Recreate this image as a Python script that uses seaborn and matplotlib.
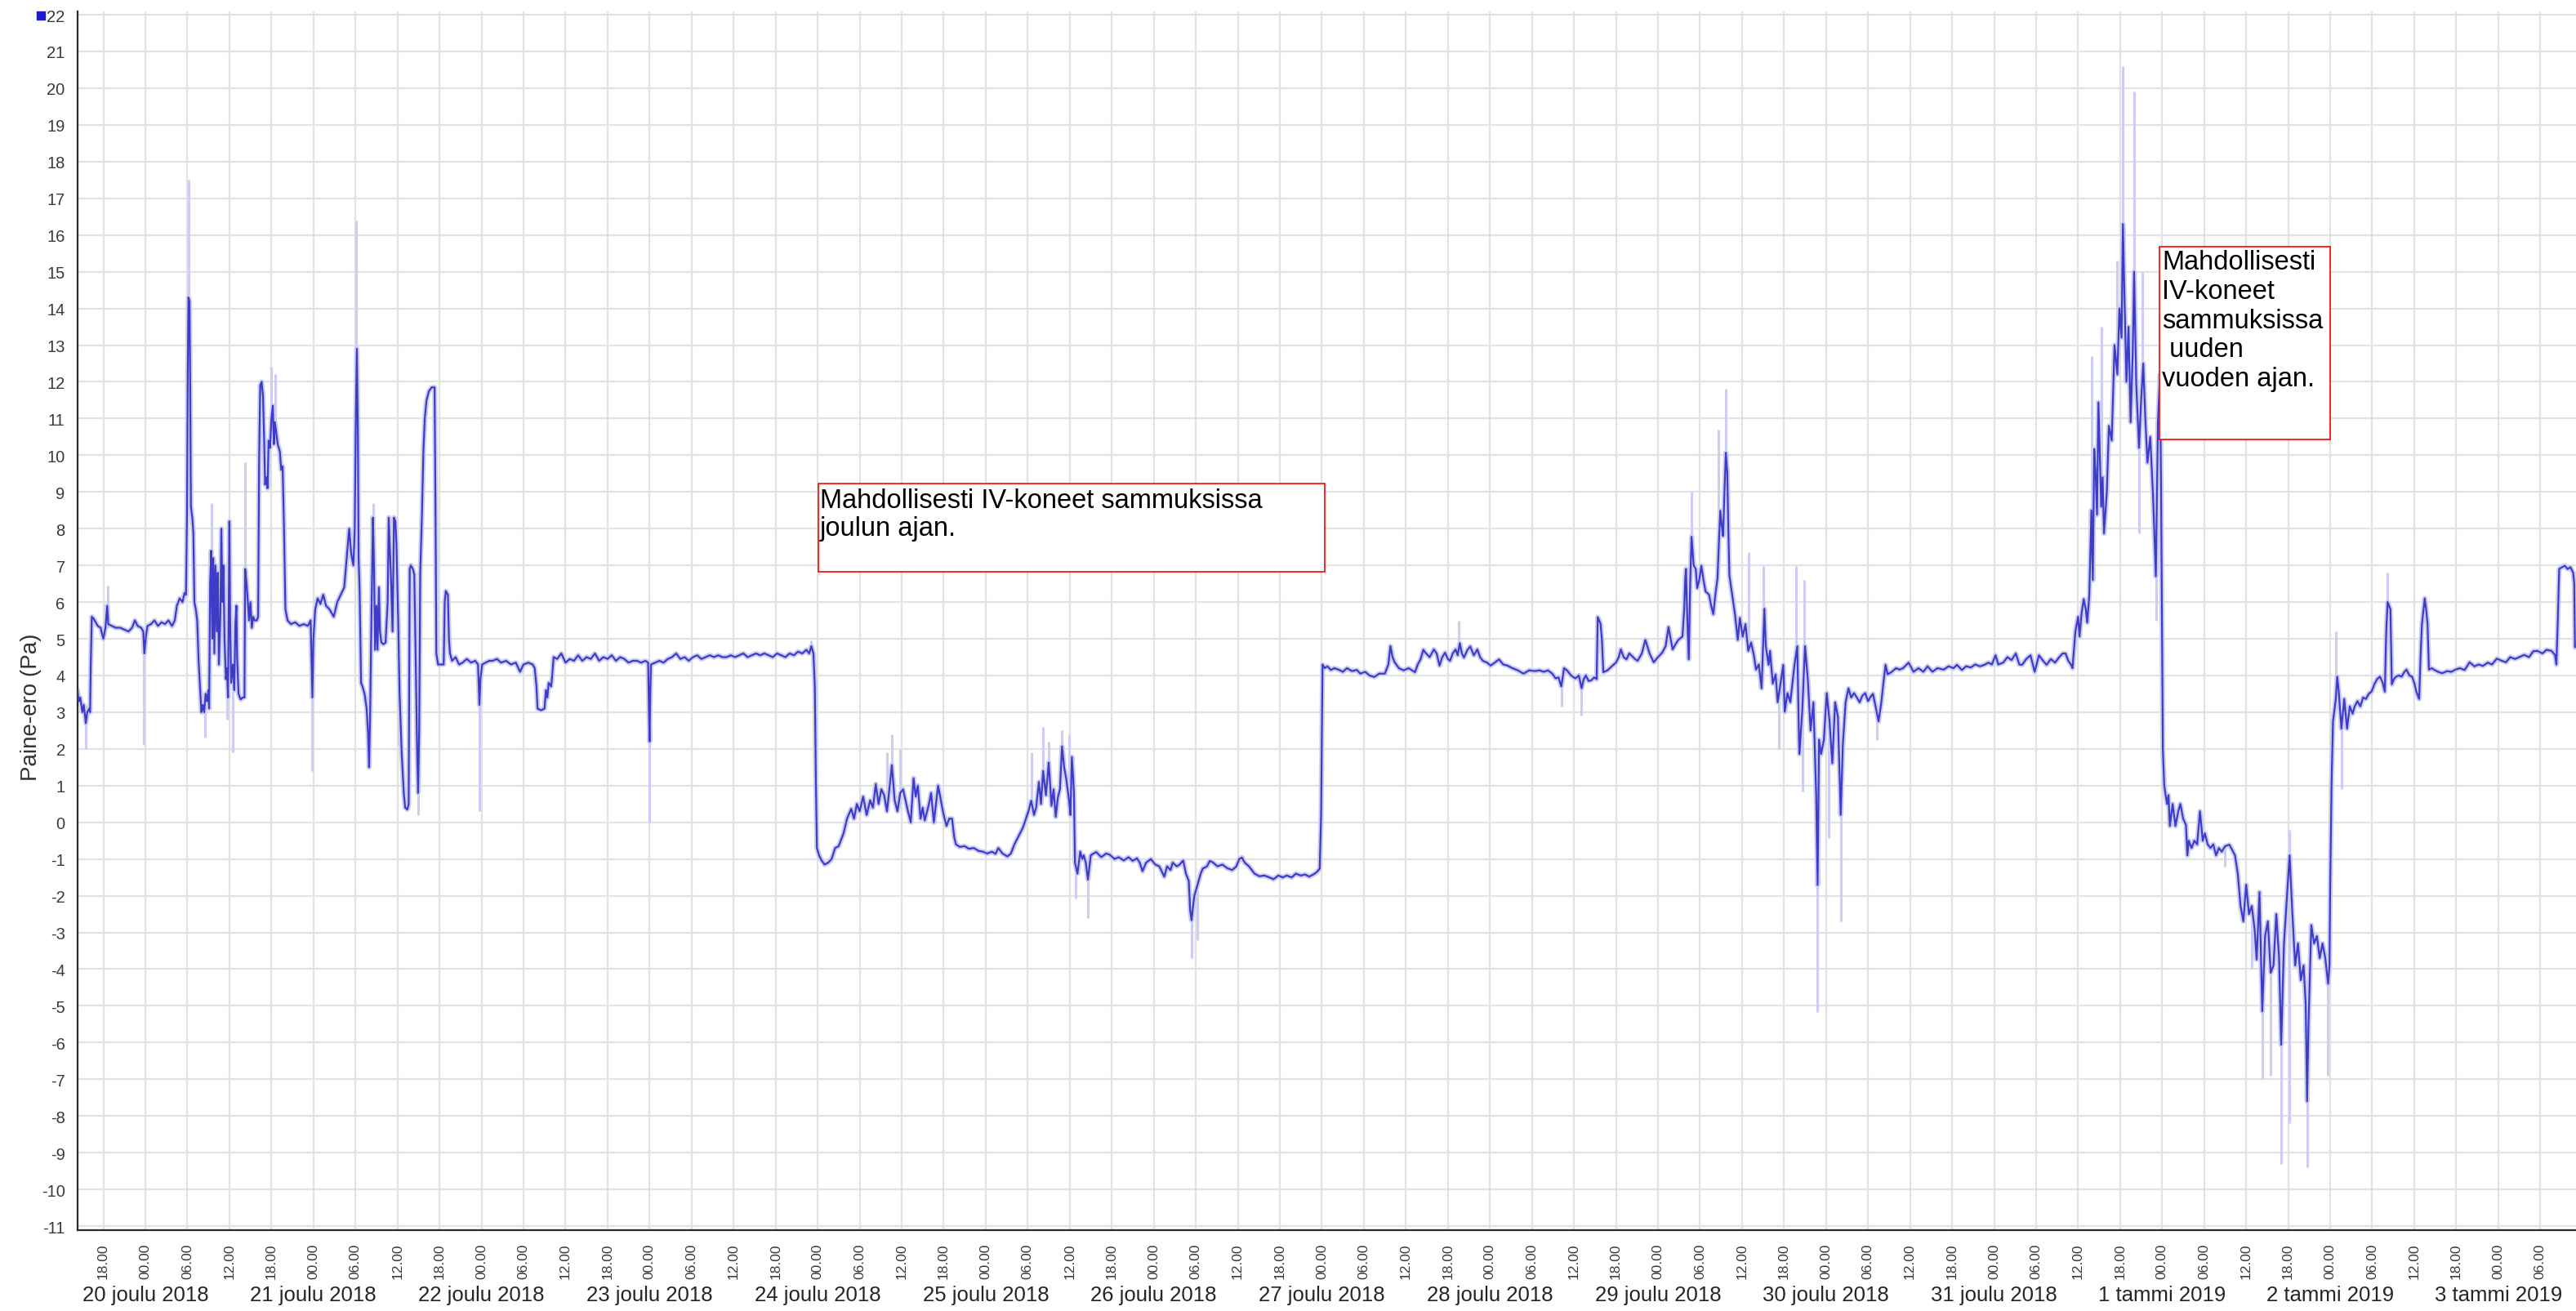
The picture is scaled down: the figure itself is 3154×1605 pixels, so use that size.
import matplotlib
matplotlib.use("Agg")
import matplotlib.pyplot as plt
import matplotlib.dates as mdates
from matplotlib.patches import Rectangle
from matplotlib.lines import Line2D
from matplotlib.ticker import MultipleLocator
import pandas as pd
import seaborn as sns

# ---------------------------------------------------------------------------
# Paine-ero (Pa), sampled as (hours after 20.12.2018 00:00, value)
# ---------------------------------------------------------------------------
START = pd.Timestamp("2018-12-20 00:00")

jakso_19_21 = [
    (-9.7, 3.6), (-9.5, 3.3), (-9.3, 3.4), (-9.0, 3.0), (-8.8, 3.2), (-8.5, 2.7), (-8.3, 3.0),
    (-8.0, 3.1), (-7.9, 3.0), (-7.8, 4.3), (-7.65, 5.6), (-7.4, 5.55), (-7.1, 5.45), (-6.8, 5.35),
    (-6.4, 5.3), (-6.0, 5.0), (-5.7, 5.3), (-5.45, 5.9), (-5.3, 5.4), (-4.8, 5.35), (-4.2, 5.3),
    (-3.6, 5.3), (-3.0, 5.25), (-2.4, 5.2), (-1.9, 5.3), (-1.5, 5.5), (-1.1, 5.35), (-0.6, 5.3),
    (-0.3, 5.2), (-0.15, 4.6), (0.1, 5.1), (0.3, 5.35), (0.8, 5.4), (1.3, 5.5), (1.8, 5.35),
    (2.3, 5.45), (2.8, 5.4), (3.3, 5.5), (3.8, 5.35), (4.2, 5.5), (4.5, 5.9), (4.9, 6.1),
    (5.3, 6.0), (5.6, 6.25), (5.8, 6.2), (5.95, 8.5), (6.05, 12.2), (6.15, 14.3), (6.3, 14.2),
    (6.4, 12.0), (6.5, 8.6), (6.7, 8.3), (6.85, 7.9), (7.0, 6.0), (7.2, 5.8), (7.4, 5.5),
    (7.6, 4.4), (7.8, 3.7), (8.0, 3.0), (8.2, 3.2), (8.4, 3.0), (8.6, 3.5), (8.8, 3.3),
    (9.0, 3.6), (9.1, 3.1), (9.25, 6.5), (9.4, 7.4), (9.55, 5.0), (9.7, 7.2), (9.85, 4.6),
    (10.0, 7.0), (10.2, 5.2), (10.35, 6.8), (10.5, 4.3), (10.7, 5.6), (10.85, 8.0), (11.0, 6.0),
    (11.15, 7.0), (11.3, 5.0), (11.5, 3.9), (11.65, 4.2), (11.8, 3.4), (12.0, 8.2), (12.1, 5.5),
    (12.25, 3.8), (12.5, 4.3), (12.7, 3.6), (12.85, 5.4), (13.0, 5.9), (13.1, 4.5), (13.3, 3.5),
    (13.6, 3.35), (13.9, 3.4), (14.15, 3.4), (14.25, 6.9), (14.4, 6.6), (14.6, 6.1), (14.8, 5.5),
    (15.0, 6.0), (15.2, 5.3), (15.4, 5.6), (15.6, 5.5), (15.9, 5.5), (16.1, 5.6), (16.25, 10.0),
    (16.4, 11.9), (16.6, 12.0), (16.8, 11.6), (16.95, 10.5), (17.1, 9.2), (17.3, 9.4), (17.45, 9.1),
    (17.6, 10.4), (17.8, 10.2), (18.0, 11.0), (18.2, 11.35), (18.35, 10.3), (18.5, 10.9),
    (18.7, 10.6), (18.9, 10.3), (19.2, 10.1), (19.4, 9.6), (19.6, 9.7), (19.8, 8.0), (20.0, 5.8),
    (20.3, 5.5), (20.8, 5.4), (21.4, 5.45), (22.0, 5.35), (22.6, 5.4), (23.2, 5.35), (23.6, 5.5),
    (23.85, 3.4), (24.0, 5.0), (24.25, 5.8), (24.6, 6.1), (25.0, 5.95), (25.4, 6.2), (25.8, 5.9),
    (26.3, 5.8), (26.9, 5.6), (27.4, 6.0), (27.9, 6.2), (28.4, 6.4), (28.8, 7.3), (29.1, 8.0),
    (29.4, 7.3), (29.7, 7.0), (29.9, 8.0), (30.05, 11.0), (30.2, 12.9), (30.35, 10.5),
    (30.45, 7.2), (30.6, 6.3), (30.8, 3.8), (31.0, 3.7), (31.3, 3.5), (31.6, 3.1), (31.8, 2.4),
    (31.95, 1.5), (32.1, 3.0), (32.3, 5.8), (32.5, 8.3), (32.65, 7.0), (32.8, 4.7), (33.0, 5.9),
    (33.15, 4.7), (33.35, 6.4), (33.5, 5.2), (33.7, 4.9), (34.0, 4.85), (34.3, 4.9), (34.6, 6.0),
    (34.75, 8.3), (34.9, 7.5), (35.1, 6.5), (35.3, 5.2), (35.5, 8.3), (35.7, 8.2), (35.85, 7.6),
    (36.1, 5.5), (36.3, 3.5), (36.6, 1.9), (36.9, 0.8), (37.1, 0.4), (37.4, 0.35), (37.6, 0.5),
    (37.75, 6.9), (37.9, 7.0), (38.2, 6.9), (38.4, 6.75), (38.6, 4.5), (38.8, 2.0), (38.95, 0.8),
    (39.1, 2.5), (39.25, 6.8), (39.5, 8.4), (39.7, 10.1), (39.9, 11.0), (40.15, 11.5),
    (40.5, 11.75), (40.9, 11.85), (41.3, 11.85), (41.45, 8.0), (41.55, 4.6), (41.8, 4.3),
    (42.3, 4.3), (42.6, 4.3), (42.75, 6.0), (42.9, 6.3), (43.2, 6.2), (43.35, 5.0), (43.5, 4.6),
    (43.8, 4.4), (44.3, 4.5), (44.8, 4.3), (45.3, 4.35), (45.9, 4.45), (46.5, 4.35), (47.1, 4.4),
    (47.5, 4.3), (47.7, 3.2), (47.85, 3.9), (48.1, 4.3), (48.6, 4.35), (49.1, 4.4), (49.6, 4.4),
    (50.2, 4.45),
]

jakso_22_26 = [
    (50.8, 4.35), (51.5, 4.4), (52.2, 4.3), (52.9, 4.35), (53.5, 4.1), (54.0, 4.3), (54.7, 4.35),
    (55.3, 4.3), (55.6, 4.2), (55.85, 3.7), (56.0, 3.1), (56.5, 3.05), (57.0, 3.1), (57.2, 3.6),
    (57.4, 3.4), (57.6, 3.8), (57.8, 3.75), (57.95, 3.7), (58.1, 4.0), (58.3, 4.5), (58.8, 4.45),
    (59.4, 4.6), (60.0, 4.35), (60.6, 4.45), (61.2, 4.4), (61.8, 4.55), (62.4, 4.4), (63.0, 4.5),
    (63.6, 4.45), (64.2, 4.6), (64.8, 4.4), (65.4, 4.5), (66.0, 4.45), (66.6, 4.55), (67.2, 4.4),
    (67.8, 4.5), (68.4, 4.45), (69.0, 4.35), (69.6, 4.4), (70.2, 4.4), (70.8, 4.35), (71.4, 4.4),
    (71.8, 4.35), (71.9, 3.2), (72.0, 2.2), (72.1, 3.5), (72.2, 4.3), (72.8, 4.35), (73.4, 4.4),
    (74.0, 4.35), (74.6, 4.45), (75.2, 4.5), (75.8, 4.6), (76.4, 4.45), (77.0, 4.5), (77.6, 4.4),
    (78.2, 4.5), (78.8, 4.55), (79.4, 4.45), (80.0, 4.5), (80.6, 4.55), (81.2, 4.5), (81.8, 4.55),
    (82.4, 4.5), (83.0, 4.5), (83.6, 4.55), (84.2, 4.5), (84.8, 4.55), (85.4, 4.6), (86.0, 4.5),
    (86.6, 4.55), (87.2, 4.6), (87.8, 4.55), (88.4, 4.6), (89.0, 4.55), (89.6, 4.5), (90.2, 4.6),
    (90.8, 4.55), (91.4, 4.5), (92.0, 4.6), (92.6, 4.55), (93.2, 4.65), (93.8, 4.6), (94.4, 4.7),
    (94.8, 4.6), (95.1, 4.8), (95.4, 4.6), (95.6, 3.7), (95.75, 1.1), (95.9, -0.7), (96.2, -0.9),
    (96.6, -1.05), (97.0, -1.15), (97.5, -1.1), (98.0, -1.0), (98.5, -0.7), (99.0, -0.65),
    (99.7, -0.3), (100.2, 0.1), (100.8, 0.37), (101.2, 0.1), (101.6, 0.5), (102.0, 0.3),
    (102.5, 0.7), (103.0, 0.2), (103.5, 0.6), (103.9, 0.4), (104.3, 1.04), (104.7, 0.5),
    (105.1, 0.9), (105.5, 0.74), (105.9, 0.3), (106.3, 1.0), (106.6, 1.56), (107.0, 0.6),
    (107.4, 0.3), (107.8, 0.8), (108.2, 0.9), (108.55, 0.6), (108.9, 0.3), (109.3, 0.0),
    (109.7, 1.2), (110.0, 0.7), (110.3, 1.0), (110.7, 0.1), (111.0, 0.4), (111.3, 0.05),
    (111.9, 0.5), (112.2, 0.8), (112.6, 0.0), (113.2, 1.0), (113.6, 0.6), (114.0, 0.2),
    (114.4, -0.1), (114.8, 0.1), (115.2, 0.1), (115.5, -0.4), (115.75, -0.6), (116.3, -0.67),
    (117.0, -0.65), (117.6, -0.72), (118.3, -0.7), (119.0, -0.78), (119.6, -0.8), (120.2, -0.85),
    (120.9, -0.8), (121.4, -0.86), (121.8, -0.7), (122.4, -0.85), (123.1, -0.93), (123.6, -0.85),
    (124.1, -0.6), (124.5, -0.45), (124.9, -0.3), (125.3, -0.15), (125.7, 0.07), (126.1, 0.3),
    (126.5, 0.59), (126.9, 0.2), (127.2, 0.4), (127.6, 1.1), (127.9, 0.5), (128.2, 1.4),
    (128.6, 0.74), (129.0, 1.63), (129.4, 0.45), (129.7, 0.9), (130.0, 0.15), (130.3, 0.67),
    (130.6, 0.9), (130.9, 2.07), (131.2, 1.5), (131.5, 1.19), (131.9, 0.6), (132.1, 0.2),
    (132.3, 1.78), (132.5, 1.2), (132.6, 0.8), (132.75, -1.1), (133.1, -1.4), (133.5, -0.8),
    (133.8, -1.0), (134.0, -0.9), (134.3, -1.1), (134.6, -1.56), (135.0, -0.9), (135.4, -0.85),
    (135.8, -0.81), (136.5, -0.95), (137.2, -0.85), (137.7, -0.88), (138.4, -1.0), (139.0, -0.95),
    (139.7, -1.04), (140.4, -0.95), (141.0, -1.05), (141.6, -0.98), (142.0, -1.1), (142.4, -1.33),
    (142.9, -1.1), (143.6, -1.0), (144.2, -1.15), (144.8, -1.2), (145.5, -1.48), (145.9, -1.2),
    (146.4, -1.3), (146.7, -1.1), (147.3, -1.2), (147.7, -1.15), (148.2, -1.04), (148.6, -1.4),
    (149.0, -1.6), (149.2, -2.4), (149.4, -2.67), (149.6, -2.3), (149.8, -2.0), (150.1, -1.8),
    (150.4, -1.6), (150.7, -1.4), (151.0, -1.26), (151.6, -1.2), (152.0, -1.05), (152.5, -1.1),
    (153.1, -1.2), (153.8, -1.15), (154.5, -1.25), (155.2, -1.3), (155.8, -1.2), (156.2, -1.0),
    (156.6, -0.96), (157.0, -1.1), (157.6, -1.2), (158.0, -1.3), (158.4, -1.4), (159.1, -1.47),
    (159.8, -1.45), (160.5, -1.5), (161.1, -1.55), (161.8, -1.45), (162.4, -1.5), (163.0, -1.45),
    (163.7, -1.5), (164.3, -1.4), (165.0, -1.45), (165.6, -1.42), (166.2, -1.48), (166.9, -1.41),
    (167.3, -1.35), (167.7, -1.26), (167.9, 0.2), (168.1, 4.3), (168.4, 4.2), (168.8, 4.25),
    (169.3, 4.15),
]

jakso_27_29 = [
    (169.8, 4.2), (170.5, 4.15), (171.0, 4.1), (171.6, 4.2), (172.3, 4.12), (173.0, 4.15),
    (173.5, 4.05), (174.2, 4.1), (174.8, 4.0), (175.5, 3.96), (176.2, 4.05), (177.0, 4.05),
    (177.5, 4.3), (177.8, 4.8), (178.1, 4.5), (178.4, 4.36), (179.0, 4.2), (179.7, 4.14),
    (180.4, 4.2), (181.3, 4.09), (181.7, 4.3), (182.1, 4.44), (182.5, 4.7), (182.8, 4.62),
    (183.4, 4.5), (184.0, 4.71), (184.4, 4.6), (184.8, 4.27), (185.2, 4.5), (185.6, 4.62),
    (186.0, 4.45), (186.3, 4.4), (186.7, 4.6), (187.1, 4.71), (187.4, 4.55), (187.7, 4.88),
    (188.0, 4.6), (188.3, 4.49), (188.8, 4.7), (189.2, 4.79), (189.7, 4.55), (190.2, 4.71),
    (190.6, 4.5), (191.0, 4.4), (191.6, 4.35), (192.1, 4.27), (192.7, 4.35), (193.3, 4.44),
    (193.9, 4.3), (194.5, 4.27), (195.2, 4.2), (196.0, 4.14), (196.8, 4.05), (197.6, 4.14),
    (198.4, 4.12), (199.1, 4.14), (199.7, 4.1), (200.3, 4.14), (200.9, 4.05), (201.4, 3.92),
    (201.8, 3.95), (202.2, 3.7), (202.6, 4.2), (203.0, 4.14), (203.6, 4.0), (204.2, 3.92),
    (204.7, 4.0), (205.1, 3.65), (205.4, 3.9), (205.7, 4.0), (206.1, 3.85), (206.5, 3.87),
    (206.9, 3.95), (207.25, 3.9), (207.4, 5.59), (207.8, 5.41), (208.0, 4.97), (208.2, 4.09),
    (208.8, 4.14), (209.4, 4.25), (210.0, 4.35), (210.4, 4.5), (210.7, 4.71), (211.1, 4.5),
    (211.5, 4.44), (211.9, 4.6), (212.3, 4.53), (212.7, 4.45), (213.1, 4.4), (213.7, 4.6),
    (214.2, 4.97), (214.8, 4.6), (215.4, 4.36), (216.0, 4.5), (216.6, 4.62), (217.1, 4.8),
    (217.5, 5.32), (218.1, 4.71), (218.5, 4.85), (218.9, 4.97), (219.5, 5.06), (219.75, 5.8),
    (219.9, 6.64), (220.0, 6.9), (220.2, 5.5), (220.4, 4.44), (220.6, 6.5), (220.8, 7.78),
    (221.1, 7.0), (221.4, 6.9), (221.6, 6.38), (221.9, 6.6), (222.2, 6.99), (222.5, 6.6),
    (222.8, 6.29), (223.3, 6.2), (223.6, 5.9), (223.9, 5.67), (224.2, 6.2), (224.5, 6.64),
    (224.7, 7.6), (224.9, 8.49), (225.1, 8.1), (225.3, 7.8), (225.5, 9.0), (225.7, 10.07),
    (225.9, 9.54), (226.05, 8.0), (226.2, 6.73), (226.6, 6.2), (227.0, 5.67), (227.4, 4.97),
    (227.7, 5.57), (228.1, 5.06), (228.5, 5.4),
]

jakso_30_31 = [
    (228.9, 4.67), (229.3, 4.9), (229.7, 4.55), (230.0, 4.16), (230.4, 4.3), (230.8, 3.65),
    (231.2, 5.82), (231.4, 4.8), (231.8, 4.29), (232.0, 4.67), (232.4, 3.78), (232.8, 4.03),
    (233.1, 3.27), (233.5, 3.78), (233.9, 4.29), (234.1, 3.01), (234.5, 3.52), (234.9, 3.27),
    (235.5, 4.29), (235.9, 4.8), (236.1, 2.63), (236.2, 1.86), (236.6, 3.01), (237.0, 4.8),
    (237.4, 3.9), (237.8, 2.5), (238.2, 3.27), (238.6, 0.71), (238.8, -1.71), (239.0, 2.25),
    (239.3, 1.86), (239.7, 2.25), (240.1, 3.52), (240.5, 2.76), (240.9, 1.61), (241.3, 3.27),
    (241.7, 2.88), (242.1, 0.2), (242.4, 2.12), (242.8, 3.27), (243.2, 3.65), (243.6, 3.4),
    (244.0, 3.52), (244.4, 3.4), (244.8, 3.27), (245.2, 3.45), (245.6, 3.52), (246.0, 3.3),
    (246.3, 3.4), (246.7, 3.5), (247.1, 3.14), (247.5, 2.75), (247.9, 3.27), (248.2, 3.8),
    (248.5, 4.29), (248.8, 4.03), (249.4, 4.1), (250.0, 4.2), (250.5, 4.16), (251.0, 4.2),
    (251.8, 4.35), (252.5, 4.1), (253.2, 4.2), (253.9, 4.1), (254.5, 4.25), (255.2, 4.1),
    (255.9, 4.2), (256.8, 4.16), (257.5, 4.25), (258.2, 4.2), (258.7, 4.29), (259.4, 4.15),
    (260.0, 4.25), (260.7, 4.22), (261.3, 4.3), (262.0, 4.25), (262.6, 4.29), (263.2, 4.35),
    (263.7, 4.3), (264.2, 4.55), (264.6, 4.3), (265.3, 4.35), (265.9, 4.5), (266.5, 4.42),
    (267.1, 4.6), (267.6, 4.3), (268.0, 4.29), (268.6, 4.45), (269.2, 4.55), (269.8, 4.1),
    (270.4, 4.55), (271.0, 4.4), (271.5, 4.29), (272.1, 4.45), (272.7, 4.35), (273.3, 4.5),
    (273.8, 4.6), (274.2, 4.6), (274.6, 4.4), (275.0, 4.29), (275.2, 4.2), (275.4, 4.7),
    (275.6, 5.18), (276.0, 5.6), (276.2, 5.06), (276.5, 5.7), (276.8, 6.08), (277.1, 5.8),
    (277.3, 5.44), (277.6, 6.2), (277.9, 8.5), (278.1, 6.6), (278.3, 10.17), (278.5, 9.5),
    (278.7, 8.38), (278.9, 11.44), (279.1, 10.0), (279.3, 8.6), (279.5, 9.4), (279.7, 7.87),
    (280.1, 9.0), (280.4, 10.8), (280.8, 10.4), (281.2, 13.0), (281.6, 12.2), (281.9, 14.0),
    (282.2, 13.2), (282.4, 16.3), (282.6, 14.5), (282.9, 12.0), (283.2, 13.5), (283.5, 10.9),
    (283.8, 12.8), (284.0, 15.0), (284.3, 11.95), (284.7, 10.2), (285.0, 11.5), (285.3, 12.5),
    (285.6, 11.0), (285.9, 9.8), (286.3, 10.5), (286.7, 8.9), (287.1, 6.7), (287.4, 10.9),
    (287.7, 12.2), (287.85, 9.0), (288.0, 4.9), (288.1, 2.0), (288.3, 1.0),
]

jakso_1_3 = [
    (288.5, 0.74), (288.7, 0.5), (288.9, 0.74), (289.1, -0.1), (289.5, 0.5), (289.9, -0.1),
    (290.3, 0.3), (290.6, 0.5), (291.0, 0.1), (291.4, -0.07), (291.6, -0.9), (291.8, -0.5),
    (292.2, -0.7), (292.6, -0.5), (293.0, -0.6), (293.4, 0.3), (293.8, -0.5), (294.1, -0.3),
    (294.5, -0.6), (294.9, -0.7), (295.3, -0.6), (295.7, -0.9), (296.1, -0.7), (296.5, -0.8),
    (297.0, -0.65), (297.6, -0.61), (298.0, -0.75), (298.4, -0.9), (298.8, -1.4), (299.2, -2.28),
    (299.6, -2.7), (300.0, -1.7), (300.4, -2.5), (300.8, -2.28), (301.2, -2.9), (301.5, -3.74),
    (301.9, -1.9), (302.3, -5.15), (302.7, -3.1), (303.1, -2.7), (303.5, -4.1), (303.9, -3.9),
    (304.3, -2.5), (304.7, -3.7), (305.0, -6.06), (305.4, -3.3), (305.8, -2.1), (306.2, -0.9),
    (306.6, -2.5), (307.0, -3.9), (307.4, -3.3), (307.8, -4.3), (308.2, -3.9), (308.5, -4.95),
    (308.7, -7.6), (308.9, -5.5), (309.3, -2.8), (309.7, -3.3), (310.1, -3.1), (310.5, -3.7),
    (310.9, -3.3), (311.3, -3.7), (311.7, -4.4), (311.9, -3.9), (312.0, -1.7), (312.2, 1.14),
    (312.4, 2.75), (312.8, 3.36), (313.0, 3.97), (313.2, 3.6), (313.6, 2.55), (314.0, 3.36),
    (314.4, 2.55), (314.8, 3.16), (315.2, 2.96), (315.5, 3.16), (315.9, 3.3), (316.3, 3.16),
    (316.7, 3.4), (317.1, 3.36), (317.5, 3.5), (317.9, 3.56), (318.3, 3.76), (318.7, 3.9),
    (319.1, 3.97), (319.5, 3.8), (319.8, 3.56), (320.0, 5.2), (320.2, 6.0), (320.6, 5.8),
    (320.8, 3.76), (321.1, 3.9), (321.4, 3.97), (321.8, 4.0), (322.2, 3.97), (322.6, 4.1),
    (322.9, 4.16), (323.3, 4.0), (323.7, 3.97), (324.0, 3.8), (324.3, 3.56), (324.7, 3.36),
    (324.9, 4.5), (325.1, 5.4), (325.5, 6.1), (325.7, 5.8), (325.9, 5.4), (326.1, 4.16),
    (326.5, 4.2), (326.8, 4.16), (327.4, 4.1), (328.0, 4.06), (328.7, 4.12), (329.3, 4.1),
    (329.9, 4.16), (330.5, 4.2), (331.2, 4.15), (331.9, 4.36), (332.6, 4.25), (333.2, 4.3),
    (333.8, 4.26), (334.5, 4.35), (335.1, 4.3), (335.8, 4.46), (336.5, 4.4), (337.1, 4.36),
    (337.7, 4.5), (338.4, 4.45), (339.0, 4.5), (339.7, 4.56), (340.4, 4.5), (341.0, 4.66),
    (341.6, 4.67), (342.3, 4.6), (342.9, 4.7), (343.6, 4.67), (344.1, 4.56), (344.3, 4.3),
    (344.5, 5.5), (344.7, 6.9), (345.1, 6.95), (345.5, 6.99), (345.9, 6.9), (346.3, 6.95),
    (346.7, 6.8), (346.85, 6.5), (346.95, 4.77),
]

# Short-term min/max excursions: (hours, low, high)
vaihteluvali = [
    (-8.5, 2.0, 3.2), (-5.4, 5.3, 6.45), (-0.2, 2.1, 5.3), (6.2, 12.0, 17.5), (8.5, 2.3, 3.5),
    (9.5, 7.4, 8.7), (11.7, 2.8, 4.2), (12.5, 1.9, 4.3), (14.2, 6.9, 9.8), (18.0, 10.5, 12.4),
    (18.6, 10.5, 12.2), (23.85, 1.4, 5.3), (30.1, 12.0, 16.4), (32.5, 8.3, 8.7), (36.1, 2.1, 5.5),
    (38.9, 0.2, 0.8), (47.7, 0.3, 4.3), (72.0, 0.0, 2.2), (95.1, 4.8, 4.95), (105.9, 0.3, 1.9),
    (106.6, 1.56, 2.4), (107.8, 0.8, 2.0), (126.5, 0.59, 1.9), (128.2, 1.4, 2.6), (129.0, 1.63, 2.2),
    (130.9, 2.07, 2.5), (131.9, 0.6, 2.4), (132.8, -2.07, -1.1), (134.6, -2.6, -1.56),
    (149.4, -3.7, -2.67), (150.2, -3.2, -1.8), (187.5, 4.88, 5.5), (202.2, 3.15, 3.7),
    (205.0, 2.9, 3.65), (220.8, 7.78, 9.0), (224.6, 8.49, 10.7), (225.7, 10.07, 11.8),
    (228.9, 4.67, 7.35), (231.0, 5.82, 6.97), (233.3, 2.0, 3.78), (235.7, 4.8, 6.97),
    (236.6, 0.84, 3.01), (236.9, 4.8, 6.6), (238.8, -5.16, -1.71), (240.4, -0.44, 2.76),
    (242.1, -2.7, 0.2), (247.3, 2.25, 2.75), (277.9, 8.5, 12.7), (279.3, 8.6, 13.5),
    (281.5, 12.2, 15.3), (282.4, 16.3, 20.6), (284.0, 15.0, 19.9), (284.7, 7.87, 10.2),
    (285.2, 12.5, 15.0), (287.1, 5.5, 6.7), (297.0, -1.2, -0.65), (300.8, -4.0, -2.28),
    (302.3, -7.0, -5.15), (303.5, -6.9, -4.1), (305.0, -9.3, -6.06), (306.2, -8.2, -0.2),
    (308.7, -9.4, -7.6), (311.7, -6.9, -4.4), (312.8, 3.36, 5.2), (313.6, 0.9, 2.55),
    (320.2, 6.0, 6.8),
]

# Axis labelling
PAIVAT = ["20 joulu 2018", "21 joulu 2018", "22 joulu 2018", "23 joulu 2018", "24 joulu 2018",
          "25 joulu 2018", "26 joulu 2018", "27 joulu 2018", "28 joulu 2018", "29 joulu 2018",
          "30 joulu 2018", "31 joulu 2018", "1 tammi 2019", "2 tammi 2019", "3 tammi 2019"]
Y_TICKS = list(range(-11, 23))
Y_LABEL = "Paine-ero (Pa)"
HUOM_JOULU = "Mahdollisesti IV-koneet sammuksissa\njoulun ajan."
HUOM_UUSIVUOSI = "Mahdollisesti\nIV-koneet\nsammuksissa\n uuden\nvuoden ajan."

# ---------------------------------------------------------------------------
sns.set_style("white")
plt.rcParams["font.family"] = ["Liberation Sans", "DejaVu Sans"]
plt.rcParams["axes.unicode_minus"] = False

rows = jakso_19_21 + jakso_22_26 + jakso_27_29 + jakso_30_31 + jakso_1_3
df = pd.DataFrame(rows, columns=["tunnit", "paine"])
df["aika"] = START + pd.to_timedelta(df["tunnit"], unit="h")

vv = pd.DataFrame(vaihteluvali, columns=["tunnit", "ala", "yla"])
vv["aika"] = START + pd.to_timedelta(vv["tunnit"], unit="h")

W, H = 3154, 1606
fig = plt.figure(figsize=(W / 100, H / 100), dpi=100)
ax = fig.add_axes([95 / W, 99 / H, (W - 95) / W, 1492 / H])

LINE = "#3c3cc8"
LIGHT = "#cdcdf1"

ax.vlines(vv["aika"], vv["ala"], vv["yla"], color=LIGHT, lw=2.2, zorder=2)
sns.lineplot(data=df, x="aika", y="paine", ax=ax, estimator=None, sort=False,
             color=LIGHT, lw=4.5, zorder=2.5)
sns.lineplot(data=df, x="aika", y="paine", ax=ax, estimator=None, sort=False,
             color=LINE, lw=1.6, zorder=3)

ax.set_xlim(START + pd.Timedelta(hours=-9.68), START + pd.Timedelta(hours=347.1))
ax.set_ylim(-11.11, 22.09)

# grid and spines
ax.set_axisbelow(True)
ax.grid(True, which="major", color="#e2e2e2", lw=1.6)
for s in ("top", "right"):
    ax.spines[s].set_visible(False)
for s in ("left", "bottom"):
    ax.spines[s].set_color("#2a2a2a")
    ax.spines[s].set_linewidth(1.6)

# y axis
ax.set_yticks(Y_TICKS)
ax.yaxis.set_minor_locator(MultipleLocator(0.5))
ax.tick_params(axis="y", which="major", length=9, width=1.5, color="#2a2a2a",
               labelsize=14.5, labelcolor="#3a3a3a", pad=2)
ax.tick_params(axis="y", which="minor", length=5, width=1.3, color="#2a2a2a")
ax.set_ylabel(Y_LABEL, fontsize=20, color="#333333")
ax.yaxis.set_label_coords(-0.0145, 0.43)

# x axis
ax.xaxis.set_major_locator(mdates.HourLocator(byhour=[0, 6, 12, 18]))
ax.xaxis.set_minor_locator(mdates.HourLocator(byhour=[3, 9, 15, 21]))
ax.xaxis.set_major_formatter(mdates.DateFormatter("%H.%M"))
ax.tick_params(axis="x", which="major", length=8, width=1.5, color="#2a2a2a",
               labelsize=12.5, labelcolor="#3a3a3a", labelrotation=90, pad=3)
ax.tick_params(axis="x", which="minor", length=4, width=1.3, color="#2a2a2a")
ax.set_xlabel("")

for i, lab in enumerate(PAIVAT):
    ax.text(START + pd.Timedelta(days=i), -0.053, lab, transform=ax.get_xaxis_transform(),
            ha="center", va="center", fontsize=18.5, color="#262626")

# series marker in the top left corner
fig.add_artist(Line2D([49.5 / W], [1 - 19.5 / H], marker="s", markersize=6.5, ls="none",
                      color="#1c1cd4", transform=fig.transFigure))

# annotation boxes
def huomautus(x0, y0, x1, y1, teksti, tx, ty, lsp):
    fig.add_artist(Rectangle((x0 / W, 1 - y1 / H), (x1 - x0) / W, (y1 - y0) / H,
                             transform=fig.transFigure, facecolor="white",
                             edgecolor="#ff0000", lw=1.2, zorder=5))
    fig.text(tx / W, 1 - ty / H, teksti, ha="left", va="top", fontsize=23.5,
             color="black", linespacing=lsp, zorder=6)

huomautus(1002, 593, 1622, 701, HUOM_JOULU, 1004, 598, 1.13)
huomautus(2644, 303, 2853, 539, HUOM_UUSIVUOSI, 2647, 306, 1.2)

fig.savefig("out.png", dpi=100, facecolor="white")
